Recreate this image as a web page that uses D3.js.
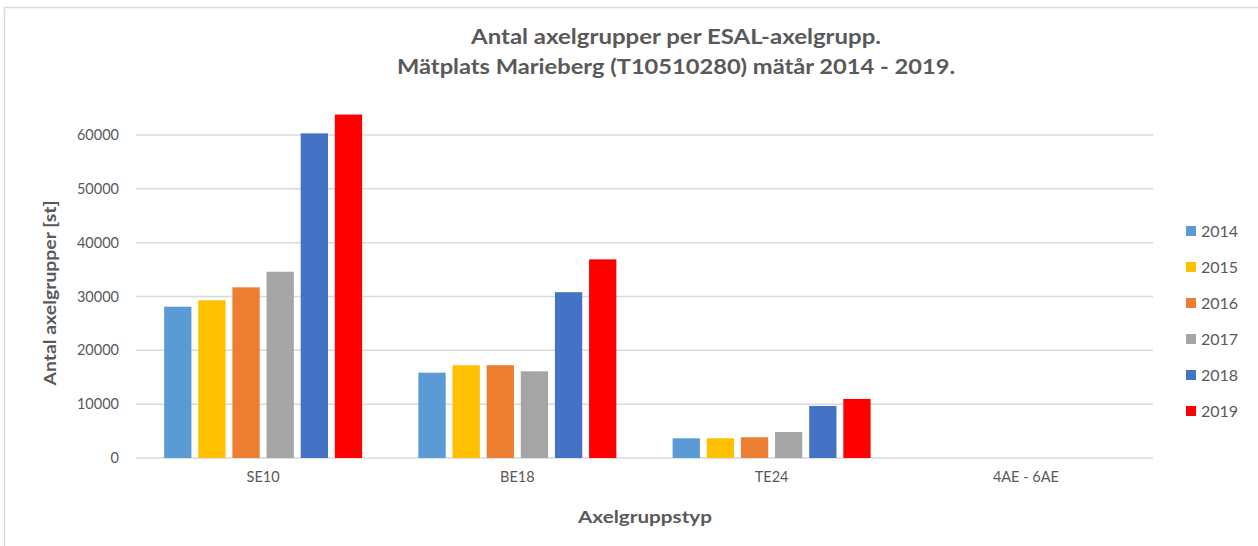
<!DOCTYPE html>
<html>
<head>
<meta charset="utf-8">
<script src="https://cdn.jsdelivr.net/npm/d3@7"></script>
<style>
  body { margin: 0; background: #fff; }
  text { font-family: Lato, "Open Sans", sans-serif; fill: #595959; }
</style>
</head>
<body>
<svg></svg>
<script>
var categories = ["SE10", "BE18", "TE24", "4AE - 6AE"];
var years = ["2014", "2015", "2016", "2017", "2018", "2019"];
var colors = ["#5B9BD5", "#FFC000", "#ED7D31", "#A5A5A5", "#4472C4", "#FF0000"];
var v2014 = [28100, 15850, 3660, 0];
var v2015 = [29300, 17230, 3660, 0];
var v2016 = [31700, 17230, 3850, 0];
var v2017 = [34600, 16100, 4830, 0];
var v2018 = [60300, 30800, 9670, 0];
var v2019 = [63800, 36900, 10970, 0];
var yTicks = [0, 10000, 20000, 30000, 40000, 50000, 60000];

var series = [v2014, v2015, v2016, v2017, v2018, v2019];

var width = 1258, height = 546;
var margins = { top: 135, bottom: 88, left: 136, right: 105 };

var svg = d3.select("svg")
  .attr("width", width)
  .attr("height", height);

// chart frame
svg.append("rect")
  .attr("x", 4.5).attr("y", 7.5)
  .attr("width", width + 10).attr("height", height + 10)
  .attr("fill", "none")
  .attr("stroke", "#d9d9d9")
  .attr("stroke-width", 1.5);

var plotW = width - margins.left - margins.right;
var baseY = 458;

var yScale = d3.scaleLinear()
  .domain([0, 60000])
  .range([baseY, 135]);

var xScale = d3.scaleBand()
  .domain(categories)
  .range([margins.left, margins.left + plotW]);

var inner = d3.scaleBand()
  .domain(years)
  .range([0, 198])
  .paddingInner(0.2);

// grid
svg.append("g")
  .selectAll("line")
  .data(yTicks)
  .join("line")
  .attr("x1", margins.left)
  .attr("x2", margins.left + plotW)
  .attr("y1", function(d){ return yScale(d); })
  .attr("y2", function(d){ return yScale(d); })
  .attr("stroke", "#d9d9d9")
  .attr("stroke-width", 1.5);

// y axis labels
var yAxis = d3.axisLeft(yScale).tickValues(yTicks).tickSize(0).tickPadding(0)
  .tickFormat(d3.format("d"));
var yg = svg.append("g")
  .attr("transform", "translate(119,0)")
  .call(yAxis);
yg.select(".domain").remove();
yg.selectAll("text")
  .attr("font-size", 14.5)
  .style("font-family", "Lato, sans-serif")
  .attr("fill", "#595959");

// bars
years.forEach(function(yr, s) {
  svg.append("g")
    .selectAll("rect")
    .data(series[s])
    .join("rect")
    .attr("x", function(d, i){ return xScale(categories[i]) + xScale.bandwidth()/2 - 99 + inner(yr); })
    .attr("width", inner.bandwidth())
    .attr("y", function(d){ return yScale(d); })
    .attr("height", function(d){ return baseY - yScale(d); })
    .attr("fill", colors[s]);
});

// x axis labels
var xAxis = d3.axisBottom(xScale).tickSize(0).tickPadding(0);
var xg = svg.append("g")
  .attr("transform", "translate(0,472)")
  .call(xAxis);
xg.select(".domain").remove();
xg.selectAll("text")
  .attr("font-size", 14.5)
  .style("font-family", "Lato, sans-serif")
  .attr("fill", "#595959");

// titles
svg.append("text")
  .attr("x", 676).attr("y", 44)
  .attr("text-anchor", "middle")
  .attr("font-size", 20).attr("font-weight", "bold")
  .attr("textLength", 410).attr("lengthAdjust", "spacingAndGlyphs")
  .text("Antal axelgrupper per ESAL-axelgrupp.");
svg.append("text")
  .attr("x", 676).attr("y", 74)
  .attr("text-anchor", "middle")
  .attr("font-size", 20).attr("font-weight", "bold")
  .attr("textLength", 558).attr("lengthAdjust", "spacingAndGlyphs")
  .text("Mätplats Marieberg (T10510280) mätår 2014 - 2019.");

svg.append("text")
  .attr("x", 645).attr("y", 523)
  .attr("text-anchor", "middle")
  .attr("font-size", 17).attr("font-weight", "bold")
  .attr("textLength", 134).attr("lengthAdjust", "spacingAndGlyphs")
  .text("Axelgruppstyp");

svg.append("text")
  .attr("transform", "translate(56,293) rotate(-90)")
  .attr("text-anchor", "middle")
  .attr("font-size", 17).attr("font-weight", "bold")
  .attr("textLength", 185).attr("lengthAdjust", "spacingAndGlyphs")
  .text("Antal axelgrupper [st]");

// legend
var legend = svg.append("g")
  .selectAll("g")
  .data(years)
  .join("g")
  .attr("transform", function(d, i){ return "translate(1186," + (231 + i*36) + ")"; });
legend.append("rect")
  .attr("x", 0).attr("y", -5)
  .attr("width", 10).attr("height", 10)
  .attr("fill", function(d, i){ return colors[i]; });
legend.append("text")
  .attr("x", 15).attr("y", 6)
  .attr("font-size", 16)
  .text(function(d){ return d; });
</script>
</body>
</html>
